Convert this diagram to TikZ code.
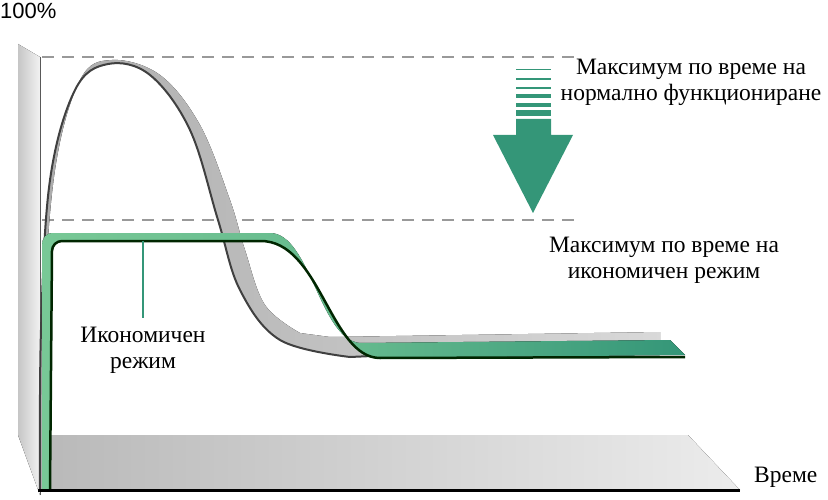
\documentclass[tikz,border=0pt]{standalone}
\usepackage{fontspec}
\setmainfont{Liberation Serif}
\newfontfamily\sansf{Liberation Sans}
\begin{document}
\begin{tikzpicture}[x=1pt,y=-1pt,
  lbl/.style={font=\fontsize{23.5}{26}\selectfont, align=center, inner sep=0pt},
  dashln/.style={draw=gray!80, line width=1.6pt, dash pattern=on 12pt off 8pt},
  stripe/.style={draw=grn, line width=#1}]
\definecolor{grn}{RGB}{52,150,120}
\definecolor{lgrn}{RGB}{120,200,150}
\useasboundingbox (0,0) rectangle (828,500);
% wall and floor
\fill[left color=gray!45, right color=gray!10] (18,44) -- (40,57) -- (40,495) -- (18,435) -- cycle;
\fill[left color=gray!55, right color=gray!15] (40,435) -- (688,435) -- (740,490) -- (40,490) -- cycle;
\draw[gray!70!black, line width=0.8pt] (40,57) -- (40,495);
% dashed levels
\coordinate (d1a) at (42,57); \coordinate (d1b) at (575,57);
\coordinate (d2a) at (42,220); \coordinate (d2b) at (575,220);
\draw[dashln] (d1a) -- (d1b);
\draw[dashln] (d2a) -- (d2b);
% grey ribbon
\fill[left color=gray!65, right color=gray!30]
  plot[smooth, tension=0.6] coordinates {(40,490) (41,330) (50,180) (75,90) (108,64) (150,75) (190,130) (218,220) (240,290) (280,340) (350,357)}
  -- (660,343) -- (660,332) -- (330,337)
  -- plot[smooth, tension=0.6] coordinates {(300,333) (265,305) (245,250) (230,200) (200,125) (160,75) (112,60) (80,80) (55,170) (44,320) (44,490)} -- cycle;
\draw[black!75, line width=2pt]
  plot[smooth, tension=0.6] coordinates {(40,490) (41,330) (50,180) (75,90) (108,64) (150,75) (190,130) (218,220) (240,290) (280,340) (350,357)} -- (660,343);
% green ribbon
\fill[left color=lgrn, right color=grn, middle color=lgrn!70!grn]
  (42,490) -- (42,245) to[out=90,in=180] (52,233) -- (270,233)
  .. controls (310,233) and (320,340) .. (360,343) -- (670,340) -- (685,355) -- (380,358)
  .. controls (330,358) and (320,240) .. (260,241) -- (62,241) to[out=180,in=90] (52,251) -- (50,490) -- cycle;
\draw[black!85!green, line width=2.5pt]
  (50,490) -- (52,251) to[out=90,in=180] (62,241) -- (260,241)
  .. controls (320,240) and (330,358) .. (380,358) -- (685,357);
% pointer
\coordinate (pt) at (143,241);
\node[lbl] (eco) at (143,350) {Икономичен\\режим};
\draw[grn, line width=1.5pt] (pt) -- (143,318);
% arrow
\foreach \y/\w in {70/1,79/1.8,88/2.8,96/3.6,105/4.6,113/5.6}{\draw[stripe=\w pt] (516,\y) -- (551,\y);}
\fill[grn] (516,119) -- (551,119) -- (551,135) -- (573,135) -- (533,213) -- (493,135) -- (516,135) -- cycle;
% labels
\node[lbl] (top) at (691,82) {Максимум по време на\\нормално функциониране};
\node[lbl] (mid) at (664,260) {Максимум по време на\\икономичен режим};
\node[font=\sansf\fontsize{22}{24}\selectfont, inner sep=0pt, anchor=north west] (pc) at (0,3) {100\%};
\node[lbl, anchor=west] (t) at (754,477) {Време};
% axis
\draw[black, line width=3pt] (38,490) -- (740,490);
\end{tikzpicture}
\end{document}
